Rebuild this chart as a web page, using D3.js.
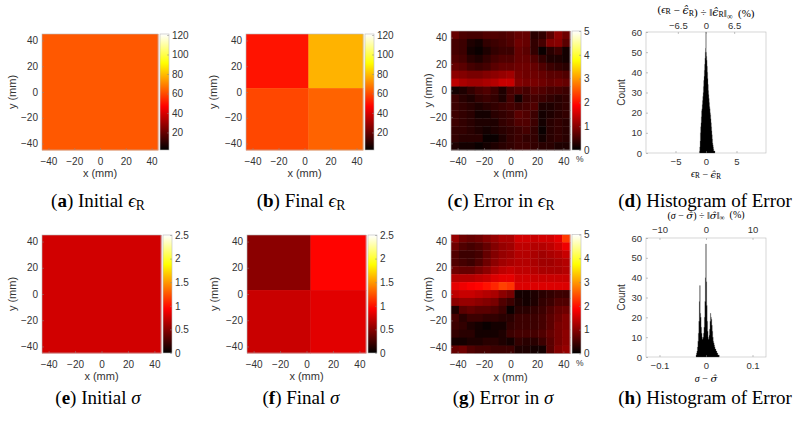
<!DOCTYPE html>
<html>
<head>
<meta charset="utf-8">
<script src="https://cdn.jsdelivr.net/npm/d3@7"></script>
<style>
  body { margin: 0; background: #fff; }
  text { font-family: "Liberation Sans", Arial, sans-serif; fill: #333; }
  .cap text, text.serif { font-family: "Liberation Serif", "Times New Roman", serif; fill: #000; }
  tspan.hat { font-family: "DejaVu Serif", serif; }
</style>
</head>
<body>
<svg id="fig" width="800" height="421"></svg>
<script>
// ---- data ----
// permittivity (eps_R) and conductivity (sigma) maps, x/y in mm
const fieldEdges = [-45, 45];
const splitEdges = [-45, 3, 45];
const epsInit = 62;
const epsFinal = [[50, 78], [59, 64]];          // rows top -> bottom
const sigInit = 0.77;
const sigFinal = [[0.51, 0.95], [0.74, 0.83]];

// error maps (%), 15 x 15 cells, rows top -> bottom
const errEps = [
  [0.74,0.55,0.51,0.51,0.59,0.59,0.55,0.62,0.74,0.74,0.30,0.37,0.66,1.05,0.80],
  [0.51,0.44,0.22,0.15,0.37,0.44,0.51,0.59,0.81,0.74,0.37,0.51,0.95,1.00,0.66],
  [0.51,0.44,0.15,0.07,0.22,0.37,0.44,0.44,0.74,0.66,0.37,0.07,0.30,0.44,0.15],
  [0.59,0.51,0.30,0.22,0.37,0.51,0.59,0.59,0.74,0.74,0.59,0.37,0.22,0.22,0.15],
  [0.74,0.66,0.51,0.44,0.51,0.66,0.74,0.74,0.81,0.81,0.74,0.59,0.44,0.37,0.30],
  [1.03,0.96,0.88,0.88,0.96,1.03,1.10,1.18,0.88,0.81,0.81,0.74,0.66,0.66,0.59],
  [1.40,1.25,1.18,1.18,1.25,1.32,1.47,1.47,0.96,0.88,0.88,0.81,0.74,0.81,0.74],
  [0.15,0.22,0.37,0.51,0.59,0.44,0.22,0.51,0.59,0.51,0.66,0.59,0.51,0.51,0.44],
  [0.44,0.30,0.22,0.37,0.44,0.37,0.22,0.51,0.15,0.44,0.51,0.44,0.37,0.30,0.37],
  [0.44,0.37,0.30,0.22,0.30,0.37,0.44,0.51,0.44,0.51,0.59,0.22,0.22,0.30,0.37],
  [0.44,0.37,0.30,0.15,0.15,0.30,0.37,0.44,0.66,0.59,0.44,0.15,0.22,0.30,0.37],
  [0.44,0.37,0.30,0.22,0.22,0.22,0.37,0.44,0.59,0.59,0.44,0.15,0.30,0.37,0.30],
  [0.37,0.37,0.30,0.22,0.15,0.22,0.30,0.37,0.44,0.51,0.37,0.07,0.30,0.37,0.30],
  [0.37,0.30,0.30,0.30,0.07,0.07,0.22,0.37,0.44,0.37,0.37,0.15,0.30,0.37,0.30],
  [0.22,0.15,0.15,0.07,0.15,0.22,0.30,0.37,0.44,0.44,0.37,0.30,0.30,0.22,0.22]
];
const errSig = [
  [1.10,0.81,0.74,0.81,0.96,1.10,1.25,1.25,1.54,1.54,1.47,1.54,1.54,1.69,2.30],
  [0.81,0.59,0.51,0.59,0.74,0.96,1.10,1.18,1.40,1.40,1.32,1.32,1.40,1.54,1.76],
  [0.59,0.44,0.44,0.51,0.74,0.96,1.10,1.18,1.32,1.32,1.25,1.18,1.25,1.32,1.47],
  [0.59,0.51,0.44,0.59,0.81,1.03,1.18,1.25,1.32,1.32,1.25,1.18,1.18,1.25,1.32],
  [0.81,0.74,0.74,0.88,1.03,1.25,1.40,1.47,1.40,1.40,1.32,1.25,1.25,1.25,1.32],
  [1.32,1.32,1.32,1.40,1.47,1.62,1.69,1.69,1.54,1.54,1.47,1.47,1.47,1.47,1.47],
  [1.69,1.76,1.84,1.90,2.00,2.15,2.35,2.25,1.62,1.62,1.62,1.62,1.62,1.62,1.62],
  [1.40,1.47,1.47,1.40,1.32,1.25,1.03,0.88,0.15,0.15,0.22,0.30,0.37,0.44,0.44],
  [1.03,1.10,1.10,1.03,0.96,0.88,0.59,0.44,0.22,0.15,0.22,0.37,0.44,0.59,0.59],
  [0.22,0.66,0.74,0.66,0.66,0.59,0.44,0.07,0.30,0.30,0.37,0.44,0.59,0.74,0.81],
  [0.51,0.30,0.44,0.44,0.37,0.37,0.30,0.30,0.44,0.44,0.44,0.51,0.66,0.81,0.96],
  [0.44,0.37,0.22,0.15,0.07,0.15,0.15,0.37,0.44,0.44,0.44,0.51,0.66,0.88,0.96],
  [0.37,0.30,0.30,0.15,0.15,0.15,0.22,0.44,0.51,0.51,0.51,0.59,0.74,0.88,1.03],
  [0.15,0.15,0.22,0.22,0.30,0.30,0.22,0.15,0.37,0.30,0.30,0.44,0.66,0.88,1.03],
  [0.74,0.81,0.59,0.51,0.51,0.44,0.44,0.44,0.22,0.22,0.15,0.15,0.66,0.96,1.10]
];
const errCellSize = 6; // mm

// histograms of the error: first bin centre, bin width, counts
const histEpsStart = -1.05, histEpsWidth = 0.05;
const histEpsCounts = [1,3,6,10,13,15,18,21,22,24,26,28,30,33,36,38,41,44,47,50,52,
  60,50,48,46,43,40,37,34,31,29,27,25,23,22,20,19,17,15,13,11,9,7,5,4,3,2,1,1,1,1];
const histSigStart = -0.021, histSigWidth = 0.001;
const histSigCounts = [1,2,3,5,8,12,18,28,36,22,20,15,12,10,9,10,12,15,20,28,40,
  57,38,26,18,13,10,9,11,14,18,22,20,19,16,13,10,8,7,6,5,4,4,3,3,2,2,1,1,1];

// tick labels
const mmTicks = [-40, -20, 0, 20, 40];
const epsBarTicks = [20, 40, 60, 80, 100, 120];
const sigBarTicks = [0, 0.5, 1, 1.5, 2, 2.5];
const errBarTicks = [0, 1, 2, 3, 4, 5];

const svg = d3.select("#fig");

// MATLAB style 'hot' colormap
function hot(t) {
  t = Math.max(0, Math.min(1, t));
  const r = Math.min(1, t / 0.375),
        g = Math.max(0, Math.min(1, (t - 0.375) / 0.375)),
        b = Math.max(0, Math.min(1, (t - 0.75) / 0.25));
  return d3.rgb(r * 255, g * 255, b * 255).toString();
}

function quadCells(vals) {
  var cells = [];
  vals.forEach(function (row, i) {
    row.forEach(function (v, j) {
      cells.push({x0: splitEdges[j], x1: splitEdges[j + 1],
                  y0: splitEdges[1 - i], y1: splitEdges[2 - i], v: v});
    });
  });
  return cells;
}
function gridCells(vals) {
  var cells = [];
  vals.forEach(function (row, i) {
    row.forEach(function (v, j) {
      var x0 = fieldEdges[0] + j * errCellSize, y1 = fieldEdges[1] - i * errCellSize;
      cells.push({x0: x0, x1: x0 + errCellSize, y0: y1 - errCellSize, y1: y1, v: v});
    });
  });
  return cells;
}
function flatCells(v) {
  return [{x0: fieldEdges[0], x1: fieldEdges[1], y0: fieldEdges[0], y1: fieldEdges[1], v: v}];
}

function styleAxis(a, size) {
  a.select(".domain").remove();
  a.selectAll("line").attr("stroke", "#888").attr("stroke-width", 0.5);
  a.selectAll("text").attr("font-size", size).attr("fill", "#333")
    .attr("font-family", "Liberation Sans, Arial, sans-serif");
}

var gradCount = 0;
function heatPanel(p) {
  var g = svg.append("g");
  var x = d3.scaleLinear().domain(fieldEdges).range([p.x0, p.x0 + p.w]),
      y = d3.scaleLinear().domain(fieldEdges).range([p.y0 + p.h, p.y0]),
      cs = d3.scaleLinear().domain(p.cdom).range([0, 1]);

  g.selectAll("rect.cell").data(p.cells).join("rect")
    .attr("x", d => x(d.x0)).attr("y", d => y(d.y1))
    .attr("width", d => x(d.x1) - x(d.x0) + 0.4)
    .attr("height", d => y(d.y0) - y(d.y1) + 0.4)
    .attr("fill", d => hot(cs(d.v)));

  g.append("rect").attr("x", p.x0).attr("y", p.y0).attr("width", p.w).attr("height", p.h)
    .attr("fill", "none").attr("stroke", "#bbb").attr("stroke-width", 0.6);

  var xa = g.append("g").attr("transform", "translate(0," + (p.y0 + p.h) + ")")
    .call(d3.axisBottom(x).tickValues(mmTicks).tickSizeInner(-2).tickSizeOuter(0).tickPadding(7.5));
  var ya = g.append("g").attr("transform", "translate(" + p.x0 + ",0)")
    .call(d3.axisLeft(y).tickValues(mmTicks).tickSizeInner(-2).tickSizeOuter(0).tickPadding(4));
  styleAxis(xa, 10);
  styleAxis(ya, 10);
  g.append("text").attr("x", p.x0 + p.w / 2).attr("y", p.y0 + p.h + 27)
    .attr("text-anchor", "middle").attr("font-size", 11).text("x (mm)");
  g.append("text").attr("transform", "translate(" + (p.x0 - p.ylab) + "," + (p.y0 + p.h / 2) + ") rotate(-90)")
    .attr("text-anchor", "middle").attr("font-size", 11).text("y (mm)");

  // colorbar
  var cbx = p.x0 + p.w + 2, cbw = 9;
  var gid = "hotgrad" + (gradCount++);
  var grad = svg.append("defs").append("linearGradient").attr("id", gid)
    .attr("x1", 0).attr("y1", 1).attr("x2", 0).attr("y2", 0);
  grad.selectAll("stop").data(d3.range(0, 1.0001, 0.025)).join("stop")
    .attr("offset", d => d).attr("stop-color", d => hot(d));
  var cy = d3.scaleLinear().domain(p.cdom).range([p.y0 + p.h, p.y0]);
  g.append("rect").attr("x", cbx).attr("y", p.y0).attr("width", cbw).attr("height", p.h)
    .attr("fill", "url(#" + gid + ")").attr("stroke", "#bbb").attr("stroke-width", 0.6);
  var ca = g.append("g").attr("transform", "translate(" + (cbx + cbw) + ",0)")
    .call(d3.axisRight(cy).tickValues(p.cticks).tickSizeInner(-2).tickSizeOuter(0).tickPadding(3)
      .tickFormat(d3.format("")));
  styleAxis(ca, 10);
  if (p.pct) {
    g.append("text").attr("x", cbx + cbw - 5).attr("y", p.y0 + p.h + 12)
      .attr("font-size", 8.5).attr("fill", "#555").text("%");
  }
}

function histPanel(p) {
  var g = svg.append("g");
  var x = d3.scaleLinear().domain(p.xdom).range([p.x0, p.x0 + p.w]),
      xt = d3.scaleLinear().domain(p.tdom).range([p.x0, p.x0 + p.w]),
      y = d3.scaleLinear().domain([0, 60]).range([p.y0 + p.h, p.y0]);

  g.append("rect").attr("x", p.x0).attr("y", p.y0).attr("width", p.w).attr("height", p.h)
    .attr("fill", "#fff").attr("stroke", "#bbb").attr("stroke-width", 0.6);

  var pts = p.counts.map((c, i) => ({x: p.start + (i - 0.5) * p.width, c: c}));
  pts.push({x: p.start + (p.counts.length - 0.5) * p.width, c: 0});
  var area = d3.area().curve(d3.curveStepAfter)
    .x(d => x(d.x)).y0(y(0)).y1(d => y(d.c));
  g.append("path").datum(pts).attr("d", area)
    .attr("fill", "#000").attr("stroke", "#666").attr("stroke-width", 0.3);

  var xa = g.append("g").attr("transform", "translate(0," + (p.y0 + p.h) + ")")
    .call(d3.axisBottom(x).tickValues(p.xticks).tickSizeInner(-2).tickSizeOuter(0).tickPadding(5.5)
      .tickFormat(d3.format("")));
  var ta = g.append("g").attr("transform", "translate(0," + p.y0 + ")")
    .call(d3.axisTop(xt).tickValues(p.tticks).tickSizeInner(-2).tickSizeOuter(0).tickPadding(p.tpad)
      .tickFormat(d3.format("")));
  var ya = g.append("g").attr("transform", "translate(" + p.x0 + ",0)")
    .call(d3.axisLeft(y).tickValues([0, 10, 20, 30, 40, 50, 60]).tickSizeInner(-2).tickSizeOuter(0).tickPadding(4));
  [xa, ta, ya].forEach(a => styleAxis(a, 9.5));
  g.append("text").attr("transform", "translate(" + (p.x0 - 21) + "," + (p.y0 + p.h / 2) + ") rotate(-90)")
    .attr("text-anchor", "middle").attr("font-size", 10).text("Count");

  var t = g.append("text").attr("class", "serif").attr("x", p.x0 + p.w / 2).attr("y", p.y0 - p.tlab)
    .attr("text-anchor", "middle").attr("font-size", p.tsize);
  p.title(t);
  var b = g.append("text").attr("class", "serif").attr("x", p.x0 + p.w / 2).attr("y", p.y0 + p.h + p.xlab)
    .attr("text-anchor", "middle").attr("font-size", 10);
  p.xlabel(b);
}

// helpers to write eps_R / sigma with optional hat
function epsR(t, hat) {
  var s = t.append("tspan").attr("font-style", "italic").text(hat ? "\u03F5\u0302" : "\u03F5");
  if (hat) s.attr("class", "hat");
  t.append("tspan").attr("font-size", "0.72em").attr("dy", "0.2em").text("R");
  t.append("tspan").attr("dy", "-0.2em").text("");
}
function sig(t, hat) {
  var s = t.append("tspan").attr("font-style", "italic").text(hat ? "\u03C3\u0302" : "\u03C3");
  if (hat) s.attr("class", "hat");
}
function normTail(t) {
  t.append("tspan").text("\u2016");
  t.append("tspan").attr("font-size", "0.72em").attr("dy", "0.2em").text("\u221E");
  t.append("tspan").attr("dy", "-0.2em").text("\u2002(%)");
}

heatPanel({x0: 42, y0: 34, w: 116, h: 116, cells: flatCells(epsInit), cdom: [2, 121], cticks: epsBarTicks, ylab: 26});
heatPanel({x0: 246, y0: 34, w: 117, h: 116, cells: quadCells(epsFinal), cdom: [2, 121], cticks: epsBarTicks, ylab: 29});
heatPanel({x0: 451, y0: 31, w: 119, h: 119, cells: gridCells(errEps), cdom: [0, 5], cticks: errBarTicks, ylab: 19, pct: true});
heatPanel({x0: 42, y0: 235, w: 119, h: 118, cells: flatCells(sigInit), cdom: [0, 2.5], cticks: sigBarTicks, ylab: 26});
heatPanel({x0: 247, y0: 235, w: 119, h: 118, cells: quadCells(sigFinal), cdom: [0, 2.5], cticks: sigBarTicks, ylab: 29});
heatPanel({x0: 451, y0: 234.5, w: 119, h: 119, cells: gridCells(errSig), cdom: [0, 5], cticks: errBarTicks, ylab: 19, pct: true});

histPanel({x0: 646, y0: 32, w: 120, h: 121, xdom: [-9.84, 9.84], tdom: [-13.85, 13.85],
  xticks: [-5, 0, 5], tticks: [-6.5, 0, 6.5], tpad: 3, tlab: 19.5, tsize: 11, xlab: 23.5,
  counts: histEpsCounts, start: histEpsStart, width: histEpsWidth,
  title: function (t) {
    t.append("tspan").text("(");
    epsR(t, false);
    t.append("tspan").text(" \u2212 ");
    epsR(t, true);
    t.append("tspan").text(") \u00F7 \u2016");
    epsR(t, true);
    normTail(t);
  },
  xlabel: function (t) {
    epsR(t, false);
    t.append("tspan").text(" \u2212 ");
    epsR(t, true);
  }});
histPanel({x0: 646, y0: 238, w: 120, h: 119, xdom: [-0.129, 0.129], tdom: [-12.9, 12.9],
  xticks: [-0.1, 0, 0.1], tticks: [-10, 0, 10], tpad: 5, tlab: 19, tsize: 10, xlab: 25,
  counts: histSigCounts, start: histSigStart, width: histSigWidth,
  title: function (t) {
    t.append("tspan").text("(");
    sig(t, false);
    t.append("tspan").text(" \u2212 ");
    sig(t, true);
    t.append("tspan").text(") \u00F7 \u2016");
    sig(t, true);
    normTail(t);
  },
  xlabel: function (t) {
    sig(t, false);
    t.append("tspan").text(" \u2212 ");
    sig(t, true);
  }});

// captions
const captions = [
  {x: 98, y: 207, tag: "a", text: "Initial ", sym: "eps"},
  {x: 301, y: 207, tag: "b", text: "Final ", sym: "eps"},
  {x: 501, y: 207, tag: "c", text: "Error in ", sym: "eps"},
  {x: 705, y: 207, tag: "d", text: "Histogram of Error", sym: null},
  {x: 98, y: 404, tag: "e", text: "Initial ", sym: "sig"},
  {x: 301, y: 404, tag: "f", text: "Final ", sym: "sig"},
  {x: 503, y: 404, tag: "g", text: "Error in ", sym: "sig"},
  {x: 705, y: 404, tag: "h", text: "Histogram of Error", sym: null}
];
var cap = svg.append("g").attr("class", "cap");
captions.forEach(function (c) {
  var t = cap.append("text").attr("x", c.x).attr("y", c.y).attr("text-anchor", "middle")
    .attr("font-size", 19);
  t.append("tspan").text("(");
  t.append("tspan").attr("font-weight", "bold").text(c.tag);
  t.append("tspan").text(") " + c.text);
  if (c.sym === "eps") epsR(t, false);
  if (c.sym === "sig") sig(t, false);
});
</script>
</body>
</html>
